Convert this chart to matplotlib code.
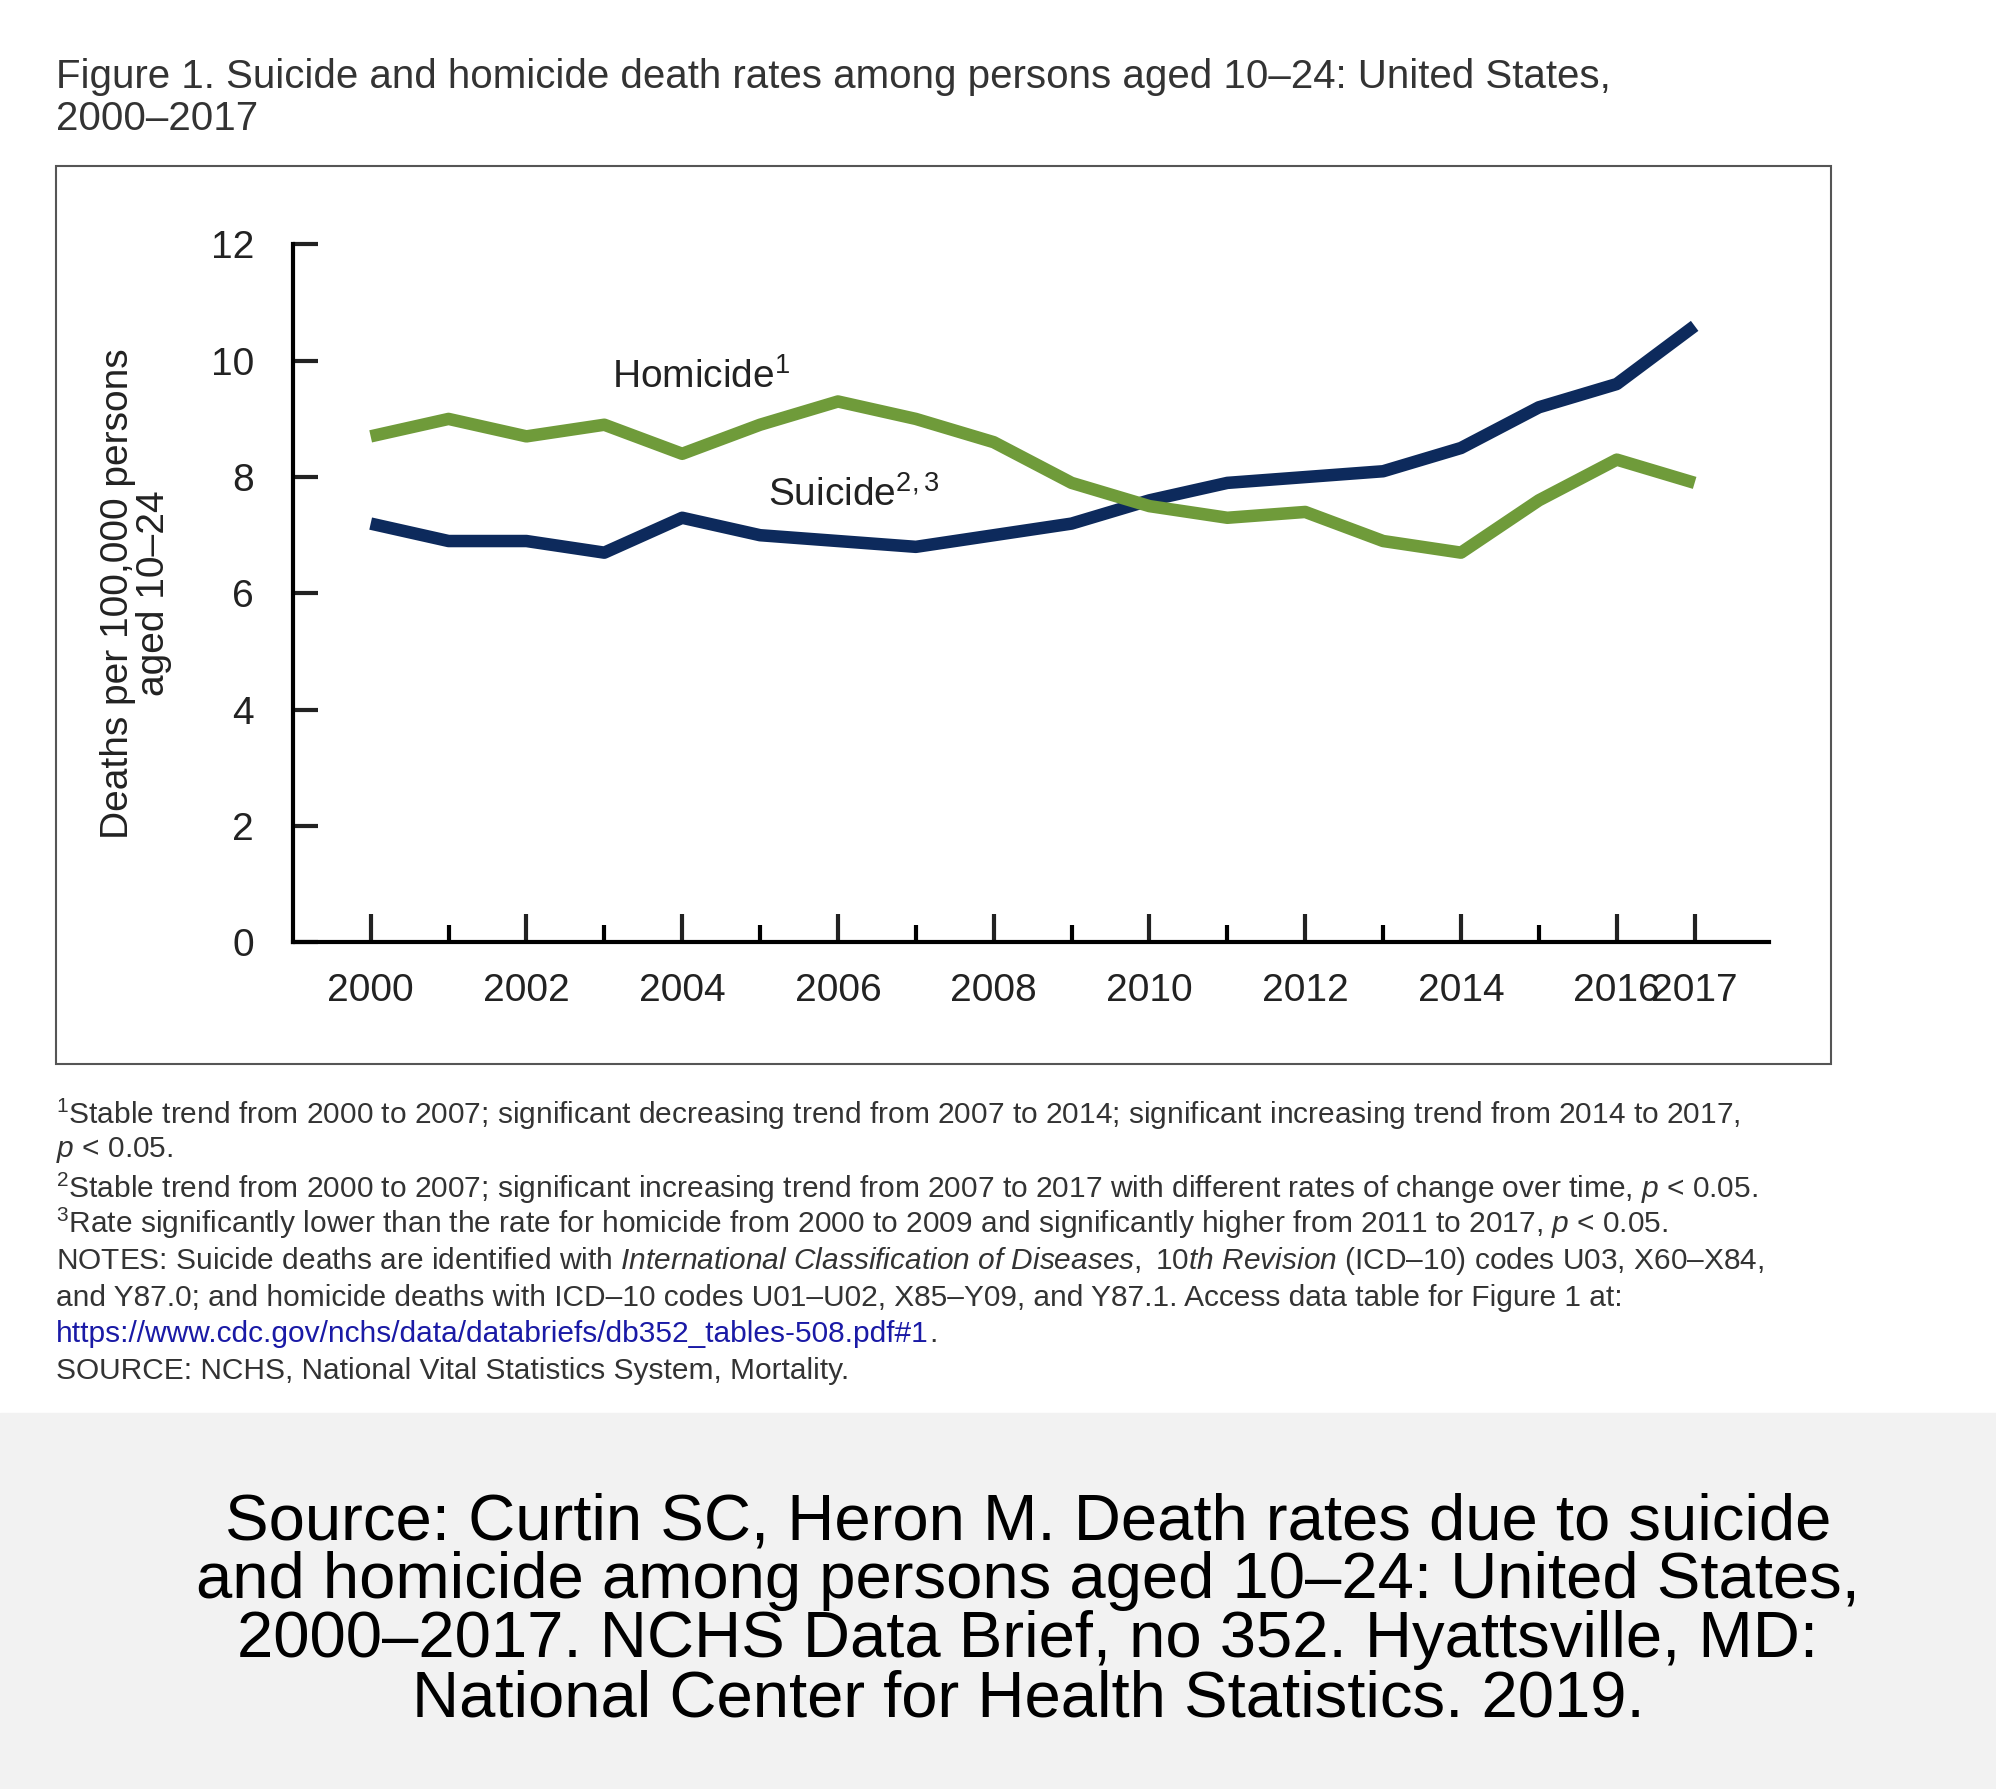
import matplotlib.pyplot as plt
from matplotlib.patches import Rectangle

plt.rcParams['font.family'] = ['Liberation Sans', 'DejaVu Sans']
plt.rcParams['mathtext.fontset'] = 'custom'
plt.rcParams['mathtext.rm'] = 'Liberation Sans'
plt.rcParams['mathtext.it'] = 'Liberation Sans:italic'

years = list(range(2000, 2018))
homicide = [8.7, 9.0, 8.7, 8.9, 8.4, 8.9, 9.3, 9.0, 8.6, 7.9, 7.5, 7.3, 7.4, 6.9, 6.7, 7.6, 8.3, 7.9]
suicide = [7.2, 6.9, 6.9, 6.7, 7.3, 7.0, 6.9, 6.8, 7.0, 7.2, 7.6, 7.9, 8.0, 8.1, 8.5, 9.2, 9.6, 10.6]
label_years = [2000, 2002, 2004, 2006, 2008, 2010, 2012, 2014, 2016, 2017]

W, H = 1568, 1405
fig = plt.figure(figsize=(19.96, 17.89), dpi=100)
fig.patches.append(Rectangle((0, 0), 1, 1 - 1110 / H, transform=fig.transFigure,
                             color='#f2f2f2', zorder=0))
fig.patches.append(Rectangle((44 / W, 1 - 836 / H), (1438 - 44) / W, (836 - 130) / H,
                             transform=fig.transFigure, fill=False, ec='#555555', lw=1.5))

fig.text(44 / W, 1 - 77 / H, 'Figure 1. Suicide and homicide death rates among persons aged 10–24: United States,\n2000–2017',
         fontsize=29, color='#333333', va='center', linespacing=1.15)

ax = fig.add_axes([230 / W, 1 - 740 / H, (1390 - 230) / W, (740 - 192) / H])
ax.plot(years, suicide, color='#0d2a5c', lw=9, solid_capstyle='butt')
ax.plot(years, homicide, color='#6f9b3a', lw=9, solid_capstyle='butt')
ax.set_xlim(1999.0, 2017.96)
ax.set_ylim(0, 12)
for s in ['top', 'right']:
    ax.spines[s].set_visible(False)
for s in ['left', 'bottom']:
    ax.spines[s].set_linewidth(3)
ax.set_yticks(range(0, 13, 2))
ax.set_xticks(years, minor=True)
ax.set_xticks(label_years)
ax.set_xticklabels([str(y) for y in label_years])
ax.tick_params(axis='x', which='major', direction='in', length=20, width=3, labelsize=28, pad=22, colors='#222222')
ax.tick_params(axis='x', which='minor', direction='in', length=12, width=3)
ax.tick_params(axis='y', direction='in', length=18, width=3, labelsize=28, pad=28, colors='#222222')
ax.set_ylabel('Deaths per 100,000 persons\naged 10–24', fontsize=28, color='#222222', labelpad=28, linespacing=1.0)
ax.text(2003.1, 9.72, 'Homicide$^{1}$', fontsize=28, color='#222222', va='center')
ax.text(2005.1, 7.7, 'Suicide$^{2,3}$', fontsize=28, color='#222222', va='center')

notes = [
    ('$^{1}$Stable trend from 2000 to 2007; significant decreasing trend from 2007 to 2014; significant increasing trend from 2014 to 2017,', 875),
    ('$\\it{p}$ < 0.05.', 903),
    ('$^{2}$Stable trend from 2000 to 2007; significant increasing trend from 2007 to 2017 with different rates of change over time, $\\it{p}$ < 0.05.', 933),
    ('$^{3}$Rate significantly lower than the rate for homicide from 2000 to 2009 and significantly higher from 2011 to 2017, $\\it{p}$ < 0.05.', 961),
    ('NOTES: Suicide deaths are identified with $\\it{International\\ Classification\\ of\\ Diseases,\\ 10th\\ Revision}$ (ICD–10) codes U03, X60–X84,', 990),
    ('and Y87.0; and homicide deaths with ICD–10 codes U01–U02, X85–Y09, and Y87.1. Access data table for Figure 1 at:', 1019),
    ('SOURCE: NCHS, National Vital Statistics System, Mortality.', 1077),
]
for txt, y in notes:
    fig.text(44 / W, 1 - y / H, txt, fontsize=21.5, color='#333333', va='center')
link = fig.text(44 / W, 1 - 1048 / H, 'https://www.cdc.gov/nchs/data/databriefs/db352_tables-508.pdf#1', fontsize=21.5,
                color='#1a1aa6', va='center')
fig.canvas.draw()
bb = link.get_window_extent().transformed(fig.transFigure.inverted())
fig.text(bb.x1, 1 - 1048 / H, '.', fontsize=21.5, color='#333333', va='center')

fig.text(0.515, 1 - 1265 / H,
         'Source: Curtin SC, Heron M. Death rates due to suicide\nand homicide among persons aged 10–24: United States,\n2000–2017. NCHS Data Brief, no 352. Hyattsville, MD:\nNational Center for Health Statistics. 2019.',
         fontsize=47, ha='center', va='center', color='black', linespacing=0.98)

fig.savefig('out.png', dpi=100, facecolor='white')
